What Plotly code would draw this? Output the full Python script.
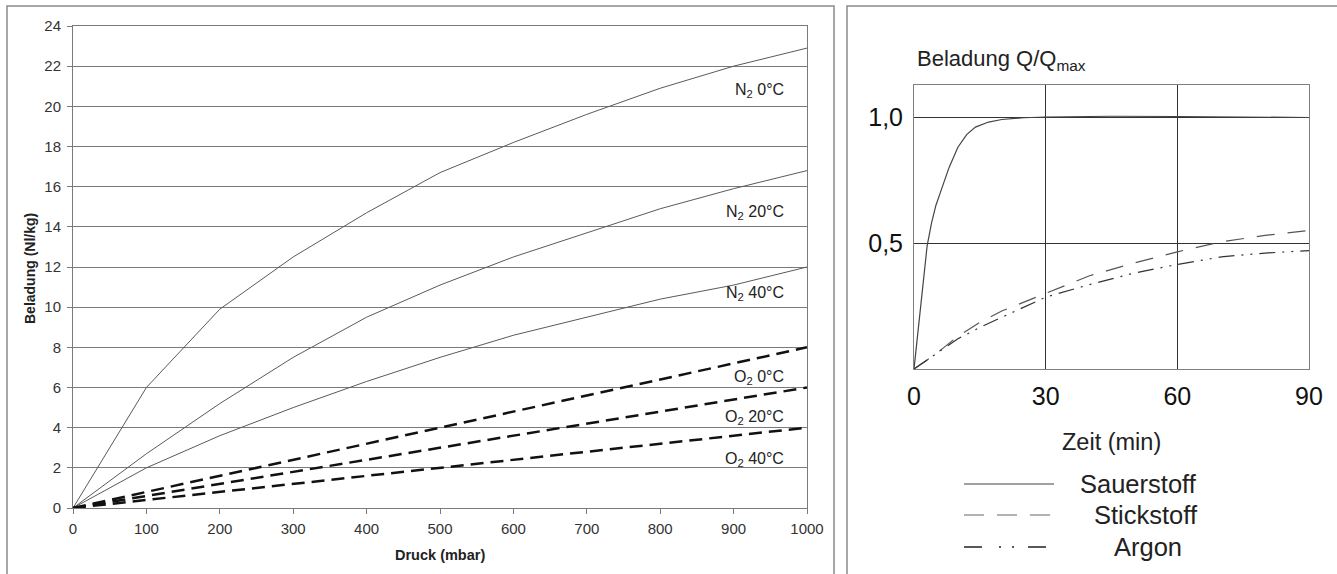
import plotly.graph_objects as go

# ---------------- data: left chart (Beladung vs. Druck) ----------------
druck = [0, 100, 200, 300, 400, 500, 600, 700, 800, 900, 1000]
n2_0c = [0, 6.0, 9.9, 12.5, 14.7, 16.7, 18.2, 19.6, 20.9, 22.0, 22.9]
n2_20c = [0, 2.7, 5.2, 7.5, 9.5, 11.1, 12.5, 13.7, 14.9, 15.9, 16.8]
n2_40c = [0, 2.0, 3.6, 5.0, 6.3, 7.5, 8.6, 9.5, 10.4, 11.1, 12.0]
o2_0c = [0, 0.8, 1.6, 2.4, 3.2, 4.0, 4.8, 5.6, 6.4, 7.2, 8.0]
o2_20c = [0, 0.6, 1.2, 1.8, 2.4, 3.0, 3.6, 4.2, 4.8, 5.4, 6.0]
o2_40c = [0, 0.4, 0.8, 1.2, 1.6, 2.0, 2.4, 2.8, 3.2, 3.6, 4.0]
left_labels = ["N<sub>2</sub> 0°C", "N<sub>2</sub> 20°C", "N<sub>2</sub> 40°C",
               "O<sub>2</sub> 0°C", "O<sub>2</sub> 20°C", "O<sub>2</sub> 40°C"]
left_label_y = [20.8, 14.7, 10.7, 6.5, 4.5, 2.4]
left_xticks = [0, 100, 200, 300, 400, 500, 600, 700, 800, 900, 1000]
left_yticks = [0, 2, 4, 6, 8, 10, 12, 14, 16, 18, 20, 22, 24]

# ---------------- data: right chart (Q/Qmax vs. Zeit) ----------------
t_sauer = [0, 1, 2, 3, 4, 5, 6, 8, 10, 12, 14, 17, 20, 25, 30, 45, 60, 75, 90]
sauerstoff = [0, 0.16, 0.34, 0.49, 0.58, 0.65, 0.70, 0.80, 0.88, 0.93, 0.96,
              0.98, 0.99, 0.997, 1.0, 1.003, 1.002, 1.001, 0.998]
t_slow = [0, 5, 10, 15, 20, 25, 30, 40, 50, 60, 70, 80, 90]
stickstoff = [0, 0.06, 0.13, 0.185, 0.23, 0.265, 0.30, 0.37, 0.42, 0.465, 0.505, 0.53, 0.55]
argon = [0, 0.06, 0.12, 0.165, 0.205, 0.245, 0.285, 0.335, 0.38, 0.415, 0.445, 0.46, 0.47]
right_xticks = [0, 30, 60, 90]
right_yticks = [0.5, 1.0]
right_yticktext = ["0,5", "1,0"]
legend_names = ["Sauerstoff", "Stickstoff", "Argon"]

# ---------------- layout helpers (pixel -> paper) ----------------
W, H = 1337, 574
def px(x):
    return x / W
def py(y):
    return 1 - y / H

FONT = "Liberation Sans, Arial, sans-serif"
GRID = "#7a7a7a"
TXT = "#222222"

fig = go.Figure()

n2_style = dict(color="#5a5a5a", width=1)
o2_style = dict(color="#111111", width=2.5, dash="13px,7px")
for ys in (n2_0c, n2_20c, n2_40c):
    fig.add_trace(go.Scatter(x=druck, y=ys, mode="lines", line=n2_style,
                             xaxis="x", yaxis="y", showlegend=False, hoverinfo="skip"))
for ys in (o2_0c, o2_20c, o2_40c):
    fig.add_trace(go.Scatter(x=druck, y=ys, mode="lines", line=o2_style,
                             xaxis="x", yaxis="y", showlegend=False, hoverinfo="skip"))

styles_right = [
    dict(color="#444444", width=1.2),
    dict(color="#555555", width=1.2, dash="18px,13px"),
    dict(color="#333333", width=1.2, dash="16px,7px,2px,7px,2px,7px"),
]
legend_styles = [
    styles_right[0],
    dict(color="#666666", width=1.2, dash="20px,13px"),
    dict(color="#222222", width=1.6, dash="18px,17px,2px,11px,2px,14px"),
]
fig.add_trace(go.Scatter(x=t_sauer, y=sauerstoff, mode="lines", line=styles_right[0],
                         xaxis="x2", yaxis="y2", showlegend=False, hoverinfo="skip"))
fig.add_trace(go.Scatter(x=t_slow, y=stickstoff, mode="lines", line=styles_right[1],
                         xaxis="x2", yaxis="y2", showlegend=False, hoverinfo="skip"))
fig.add_trace(go.Scatter(x=t_slow, y=argon, mode="lines", line=styles_right[2],
                         xaxis="x2", yaxis="y2", showlegend=False, hoverinfo="skip"))

annotations = []
for lab, yv in zip(left_labels, left_label_y):
    annotations.append(dict(x=972, y=yv, xref="x", yref="y", text=lab, showarrow=False,
                            xanchor="right", yanchor="middle",
                            font=dict(family=FONT, size=16, color=TXT)))

def note(text, x, y, size, xanchor="center", angle=0):
    return dict(x=px(x), y=py(y), xref="paper", yref="paper", text=text,
                xanchor=xanchor, yanchor="middle", textangle=angle, showarrow=False,
                font=dict(family=FONT, size=size, color=TXT))

annotations += [
    note("<b>Beladung (Nl/kg)</b>", 30, 269, 14, angle=-90),
    note("<b>Druck (mbar)</b>", 440, 555, 14.5),
    note("Beladung Q/Q<sub>max</sub>", 915, 60, 22, xanchor="left"),
    note("Zeit (min)", 1111, 442, 23.5),
]
legend_text_x = [1138, 1146, 1148]
legend_y = [484, 515, 547]
for name, lx, ly in zip(legend_names, legend_text_x, legend_y):
    annotations.append(note(name, lx, ly, 25.5))

shapes = [
    # outer panel frames
    dict(type="rect", xref="paper", yref="paper", x0=px(7), x1=px(834), y0=-0.02, y1=py(6),
         line=dict(color="#8a8a8a", width=1.5)),
    dict(type="rect", xref="paper", yref="paper", x0=px(847), x1=1.02, y0=-0.02, y1=py(6),
         line=dict(color="#8a8a8a", width=1.5)),
]
for st, ly in zip(legend_styles, legend_y):
    shapes.append(dict(type="line", xref="paper", yref="paper", x0=px(964), x1=px(1054),
                       y0=py(ly), y1=py(ly), line=st))

fig.update_layout(
    width=W, height=H, margin=dict(l=0, r=0, t=0, b=0, autoexpand=False),
    paper_bgcolor="white", plot_bgcolor="white",
    font=dict(family=FONT, color=TXT),
    xaxis=dict(domain=[px(73), px(807)], range=[0, 1000], tickvals=left_xticks,
               showgrid=False, zeroline=False, showline=True, linecolor=GRID, mirror=True,
               ticks="outside", ticklen=5, tickcolor=GRID, automargin=False,
               ticklabelstandoff=2,
               tickfont=dict(family=FONT, size=15, color="#333333"), anchor="y"),
    yaxis=dict(domain=[py(508), py(26)], range=[0, 24], tickvals=left_yticks,
               showgrid=True, gridcolor=GRID, gridwidth=1, zeroline=False,
               showline=True, linecolor=GRID, mirror=True, automargin=False,
               ticks="outside", ticklen=5, tickcolor=GRID, ticklabelstandoff=3,
               tickfont=dict(family=FONT, size=15, color="#333333"), anchor="x"),
    xaxis2=dict(domain=[px(914), px(1309)], range=[0, 90], tickvals=right_xticks,
                showgrid=True, gridcolor="#333333", gridwidth=1, zeroline=False,
                showline=True, linecolor="#808080", mirror=True, ticks="",
                ticklabelstandoff=5, automargin=False,
                tickfont=dict(family=FONT, size=25, color="#111111"), anchor="y2"),
    yaxis2=dict(domain=[py(369), py(85)], range=[0, 1.127], tickvals=right_yticks,
                ticktext=right_yticktext,
                showgrid=True, gridcolor="#333333", gridwidth=1, zeroline=False,
                showline=True, linecolor="#808080", mirror=True, ticks="",
                ticklabelstandoff=5, automargin=False,
                tickfont=dict(family=FONT, size=25, color="#111111"), anchor="x2"),
    annotations=annotations,
    shapes=shapes,
)

fig.write_html("out.html")
